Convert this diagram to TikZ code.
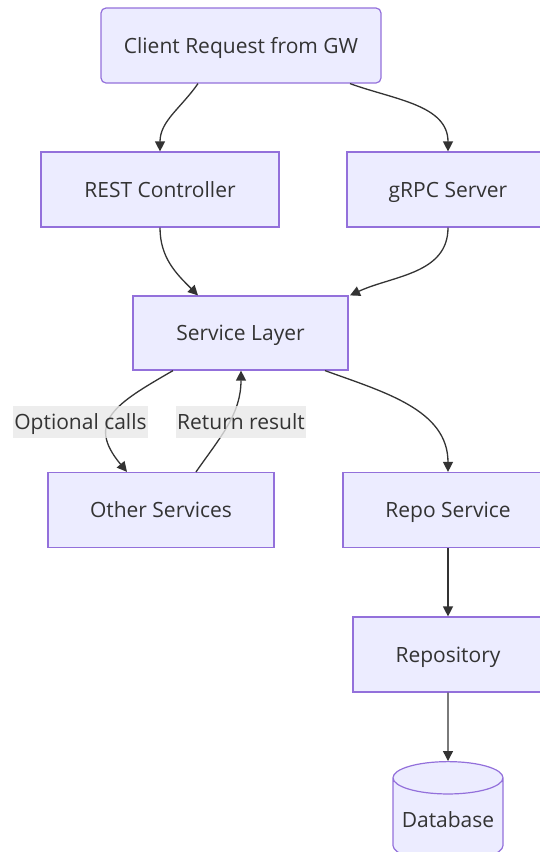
\documentclass[tikz,border=0pt]{standalone}
\usepackage{fontspec}
\setmainfont{Open Sans}
\usetikzlibrary{arrows.meta,shapes.geometric}
\definecolor{boxfill}{HTML}{ECECFF}
\definecolor{boxline}{HTML}{9370DB}
\definecolor{ink}{HTML}{333333}
\definecolor{lblfill}{HTML}{E8E8E8}

\begin{document}
\begin{tikzpicture}
  [x = 1pt, y = 1pt,
   box/.style = {draw = boxline, fill = boxfill, line width = 1.2pt, text = ink,
     minimum height = 75pt, inner sep = 0pt, text height = 17pt, text depth = 2pt,
     font = \fontsize{21}{25}\selectfont},
   lbl/.style = {fill = lblfill, fill opacity = 0.8, text opacity = 1, text = ink,
     minimum height = 32pt, inner sep = 0pt, text height = 17pt, text depth = 2pt,
     font = \fontsize{21}{25}\selectfont},
   arr/.style = {draw = ink, line width = 1.3pt, -{Triangle[length = 10pt, width = 10pt]}}]
    \useasboundingbox (0,0) rectangle (539,-852);

    \node[box, rounded corners = 5pt, minimum width = 280pt] (c1) at (241,-45.5) {Client Request from GW};

    \node[box, minimum width = 238pt] (r1) at (160,-189.5) {REST Controller};
    \node[box, minimum width = 202pt] (g1) at (448,-189.5) {gRPC Server};

    \node[box, minimum width = 215pt, minimum height = 74pt] (s1) at (240.5,-333) {Service Layer};

    \node[box, minimum width = 226pt] (o1) at (161,-510) {Other Services};
    \node[box, minimum width = 210pt] (p1) at (448,-510) {Repo Service};
    \node[box, minimum width = 190pt] (p2) at (448,-654.5) {Repository};

    \node[box, cylinder, shape border rotate = 90, aspect = 0.35,
      minimum width = 110pt, minimum height = 100pt] (d1) at (448,-820) {Database};

    \draw[arr] ([xshift = -43pt]c1.south) to[out = -125, in = 90] (r1.north);
    \draw[arr] ([xshift = 109pt]c1.south) to[out = -20, in = 90] (g1.north);
    \draw[arr] (r1.south) to[out = -90, in = 135] ([xshift = -42.5pt]s1.north);
    \draw[arr] (g1.south) to[out = -90, in = 25] ([xshift = 109.5pt]s1.north);

    \draw[arr] ([xshift = -67.5pt]s1.south) to[out = -150, in = 130, looseness = 1.5] ([xshift = -34pt]o1.north);
    \draw[arr] ([xshift = 35pt]o1.north) to[out = 55, in = -90] ([xshift = 0.5pt]s1.south);
    \node[lbl, minimum width = 135pt] (l1) at (80.5,-422) {Optional calls};
    \node[lbl, minimum width = 130pt] (l2) at (241,-422) {Return result};

    \draw[arr] ([xshift = 84.5pt]s1.south) to[out = -20, in = 90] (p1.north);
    \draw[arr] (p1.south) -- (p2.north);
    \draw[arr] (p2.south) -- (d1.north);
\end{tikzpicture}
\end{document}
